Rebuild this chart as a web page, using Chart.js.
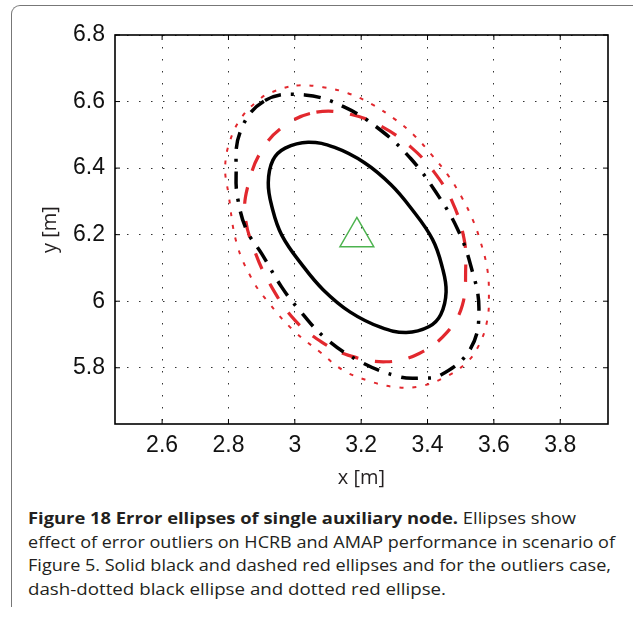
<!DOCTYPE html>
<html>
<head>
<meta charset="utf-8">
<script src="https://cdn.jsdelivr.net/npm/chart.js@4.4.0/dist/chart.umd.min.js"></script>
<style>
  body { margin: 0; background: #fff; width: 633px; height: 619px; overflow: hidden; position: relative; }
  #frame { position: absolute; left: 11px; top: 5px; width: 640px; height: 601px; border-left: 1px solid #777; border-top: 1px solid #777; border-top-left-radius: 9px; }
  #wrap { position: absolute; left: 0; top: 0; width: 633px; height: 490px; }
  #canvEllipse { display: block; width: 633px; height: 490px; }
  .cap { position: absolute; left: 28px; font-family: "Open Sans", sans-serif; font-size: 16.5px; line-height: 17px; color: #231f20; white-space: nowrap; transform-origin: 0 0; }
  .cap b { font-weight: 700; }
</style>
</head>
<body>
<div id="frame"></div>
<div id="wrap"><canvas id="canvEllipse" width="633" height="490"></canvas></div>
<div class="cap" id="cap1" data-w="548" style="top:509px"><b>Figure 18 Error ellipses of single auxiliary node.</b> Ellipses show</div>
<div class="cap" id="cap2" data-w="587" style="top:532.5px">effect of error outliers on HCRB and AMAP performance in scenario of</div>
<div class="cap" id="cap3" data-w="583" style="top:556px">Figure 5. Solid black and dashed red ellipses and for the outliers case,</div>
<div class="cap" id="cap4" data-w="418" style="top:579.5px">dash-dotted black ellipse and dotted red ellipse.</div>
<script>
// axis limits and tick labels
const xMin = 2.458, xMax = 3.944;
const yMin = 5.631, yMax = 6.8;
const xTicks = [2.6, 2.8, 3, 3.2, 3.4, 3.6, 3.8];
const yTicks = [5.8, 6, 6.2, 6.4, 6.6, 6.8];

// HCRB ellipse (solid black)
const hcrbX = [3.040, 3.120, 3.210, 3.290, 3.350, 3.415, 3.445, 3.456, 3.440, 3.405, 3.336, 3.258, 3.166, 3.086, 3.026, 2.961, 2.931, 2.920, 2.934, 2.971];
const hcrbY = [6.478, 6.462, 6.416, 6.350, 6.280, 6.186, 6.100, 6.028, 5.960, 5.924, 5.906, 5.922, 5.968, 6.034, 6.104, 6.198, 6.284, 6.356, 6.424, 6.460];

// AMAP ellipse (dashed red)
const amapX = [3.065, 3.170, 3.265, 3.350, 3.420, 3.475, 3.510, 3.515, 3.505, 3.460, 3.375, 3.275, 3.160, 3.080, 3.000, 2.930, 2.880, 2.850, 2.859, 2.900, 2.970];
const amapY = [6.568, 6.561, 6.523, 6.463, 6.388, 6.298, 6.188, 6.098, 5.988, 5.908, 5.843, 5.818, 5.838, 5.878, 5.943, 6.043, 6.148, 6.258, 6.348, 6.453, 6.528];

// HCRB with outliers (dash-dotted black)
const hcrbOutX = [2.910, 3.030, 3.150, 3.260, 3.350, 3.425, 3.490, 3.530, 3.555, 3.530, 3.440, 3.375, 3.315, 3.200, 3.090, 3.010, 2.960, 2.900, 2.855, 2.829, 2.823, 2.835];
const hcrbOutY = [6.603, 6.620, 6.583, 6.513, 6.428, 6.328, 6.218, 6.108, 5.978, 5.858, 5.778, 5.769, 5.773, 5.817, 5.891, 5.978, 6.043, 6.143, 6.213, 6.303, 6.378, 6.508];

// AMAP with outliers (dotted red)
const amapOutX = [3.005, 3.085, 3.160, 3.230, 3.300, 3.360, 3.410, 3.460, 3.500, 3.535, 3.560, 3.580, 3.585, 3.580, 3.555, 3.515, 3.445, 3.370, 3.295, 3.215, 3.145, 3.075, 2.995, 2.915, 2.870, 2.825, 2.800, 2.790, 2.805, 2.840, 2.895, 2.930];
const amapOutY = [6.648, 6.643, 6.625, 6.593, 6.548, 6.498, 6.443, 6.381, 6.318, 6.248, 6.178, 6.098, 6.023, 5.943, 5.868, 5.813, 5.768, 5.743, 5.743, 5.763, 5.793, 5.848, 5.913, 6.003, 6.068, 6.173, 6.323, 6.403, 6.483, 6.553, 6.608, 6.628];

// auxiliary node position (green triangle)
const nodeX = [3.187];
const nodeY = [6.193];

const toPoints = (xs, ys) => xs.map((x, i) => ({x: x, y: ys[i]}));

const RED = '#e2282e';

// make the ellipse lines closed curves
const closeLoops = {
    id: 'closeLoops',
    afterDatasetUpdate(chart, args) {
        const line = args.meta.dataset;
        if (line && chart.data.datasets[args.index].closed) {
            line._loop = true;
            line._fullLoop = true;
        }
    }
};

// box round the plot with inward ticks, like matlab
const boxTicks = {
    id: 'boxTicks',
    afterDraw(chart) {
        const {ctx, chartArea: a, scales} = chart;
        ctx.save();
        ctx.strokeStyle = '#000';
        ctx.lineWidth = 1;
        ctx.beginPath();
        xTicks.forEach(v => {
            const px = scales.x.getPixelForValue(v);
            ctx.moveTo(px, a.bottom); ctx.lineTo(px, a.bottom - 5);
            ctx.moveTo(px, a.top); ctx.lineTo(px, a.top + 5);
        });
        yTicks.forEach(v => {
            const py = scales.y.getPixelForValue(v);
            ctx.moveTo(a.left, py); ctx.lineTo(a.left + 5, py);
            ctx.moveTo(a.right, py); ctx.lineTo(a.right - 5, py);
        });
        ctx.stroke();
        ctx.lineWidth = 1.6;
        ctx.strokeRect(a.left, a.top, a.right - a.left, a.bottom - a.top);
        ctx.restore();
    }
};

const tickFont = {family: 'Liberation Sans', size: 23};
const titleFont = {family: 'Open Sans', size: 20};

var ellipseChart = new Chart(document.getElementById('canvEllipse'), {
    type: 'scatter',
    data: {
        datasets: [
            {
                label: 'AMAP outliers',
                data: toPoints(amapOutX, amapOutY),
                showLine: true, closed: true, tension: 0.4,
                borderColor: RED, borderWidth: 2, borderDash: [4, 9],
                pointRadius: 0
            },
            {
                label: 'HCRB outliers',
                data: toPoints(hcrbOutX, hcrbOutY),
                showLine: true, closed: true, tension: 0.4,
                borderColor: '#000', borderWidth: 3.5, borderDash: [17, 10, 3, 10],
                pointRadius: 0
            },
            {
                label: 'AMAP',
                data: toPoints(amapX, amapY),
                showLine: true, closed: true, tension: 0.4,
                borderColor: RED, borderWidth: 3.2, borderDash: [17, 17],
                pointRadius: 0
            },
            {
                label: 'HCRB',
                data: toPoints(hcrbX, hcrbY),
                showLine: true, closed: true, tension: 0.4,
                borderColor: '#000', borderWidth: 3.5,
                pointRadius: 0
            },
            {
                label: 'Node',
                data: toPoints(nodeX, nodeY),
                pointStyle: 'triangle',
                pointRadius: 19.5,
                borderColor: '#4db34f',
                backgroundColor: 'rgba(0,0,0,0)',
                borderWidth: 1.5
            }
        ]
    },
    options: {
        responsive: false,
        maintainAspectRatio: false,
        animation: false,
        events: [],
        layout: {padding: {top: 35, right: 25, left: 0, bottom: 0}},
        plugins: {legend: {display: false}, tooltip: {enabled: false}},
        scales: {
            x: {
                type: 'linear', min: xMin, max: xMax,
                afterBuildTicks: s => { s.ticks = xTicks.map(v => ({value: v})); },
                afterFit: s => { s.height = 66; },
                ticks: {callback: v => String(v), font: tickFont, color: '#111', padding: 8, maxRotation: 0, autoSkip: false},
                grid: {color: '#333', lineWidth: 1, drawTicks: false},
                border: {display: false, dash: [1.5, 10.5]},
                title: {display: true, text: 'x [m]', font: titleFont, color: '#231f20', padding: 0}
            },
            y: {
                type: 'linear', min: yMin, max: yMax,
                afterBuildTicks: s => { s.ticks = yTicks.map(v => ({value: v})); },
                afterFit: s => { s.width = 115; },
                ticks: {callback: v => String(v), font: tickFont, color: '#111', padding: 10, autoSkip: false},
                grid: {color: '#333', lineWidth: 1, drawTicks: false},
                border: {display: false, dash: [1.5, 10.5]},
                title: {display: true, text: 'y [m]', font: titleFont, color: '#231f20', padding: {top: 38, bottom: 0}}
            }
        }
    },
    plugins: [closeLoops, boxTicks]
});

// squeeze caption lines to the widths in the figure
document.querySelectorAll('.cap').forEach(el => {
    const w = el.getBoundingClientRect().width;
    el.style.transform = 'scaleX(' + (parseFloat(el.dataset.w) / w) + ')';
});
</script>
</body>
</html>
